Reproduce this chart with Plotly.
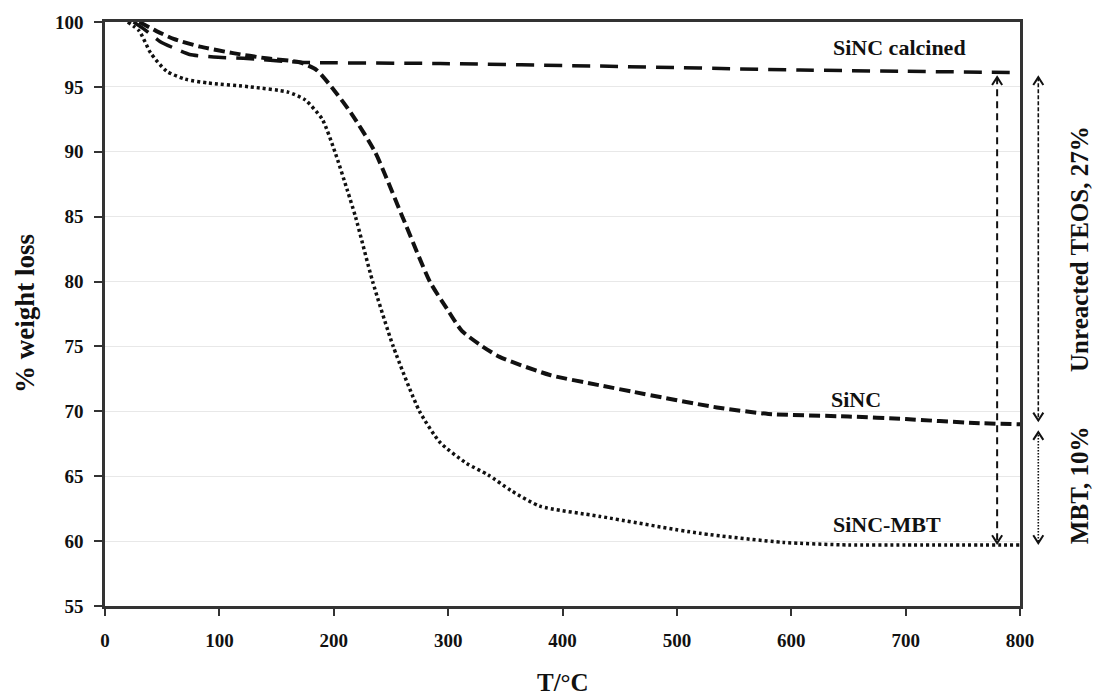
import plotly.graph_objects as go

# ---- data ----
t_mbt = [20, 30, 40, 54, 70, 90, 127, 160, 175, 190, 201, 212, 219, 234, 252, 275, 293, 316, 335, 355, 380, 433, 520, 593, 650, 700, 800]
w_mbt = [100, 99.3, 97.6, 96.2, 95.6, 95.3, 95.0, 94.6, 94.0, 92.5, 90.0, 87.0, 85.0, 80.0, 75.0, 70.0, 67.6, 66.0, 65.1, 63.9, 62.7, 61.9, 60.6, 59.9, 59.7, 59.7, 59.7]

t_sinc = [30, 45, 60, 83, 112, 141, 170, 185, 198, 215, 236, 260, 284, 299, 312, 330, 345, 389, 433, 462, 535, 580, 650, 700, 760, 800]
w_sinc = [100, 99.3, 98.7, 98.1, 97.6, 97.2, 96.9, 96.3, 95.0, 93.0, 90.0, 85.0, 80.0, 77.9, 76.2, 75.0, 74.2, 72.8, 72.0, 71.5, 70.3, 69.8, 69.6, 69.4, 69.1, 69.0]

t_calc = [25, 35, 48, 60, 74, 95, 121, 170, 293, 433, 608, 700, 800]
w_calc = [100, 99.4, 98.5, 98.0, 97.5, 97.3, 97.2, 96.9, 96.8, 96.6, 96.3, 96.2, 96.1]

x_ticks = [0, 100, 200, 300, 400, 500, 600, 700, 800]
y_ticks = [55, 60, 65, 70, 75, 80, 85, 90, 95, 100]

labels = ["SiNC calcined", "SiNC", "SiNC-MBT"]
label_x = [695, 657, 684]
label_y = [98.0, 70.9, 61.25]

note_teos = "Unreacted TEOS, 27%"
note_mbt = "MBT, 10%"
arrow_x_inner = 780
arrow_x_outer = 816
note_x = 852

# ---- layout geometry (window pixels; body margin removed via post_script) ----
W, H = 1095, 695
PL, PR, PT, PB = 105, 1020, 22, 606          # plot box in window pixels
ML, MT, MB, MR = PL, PT, H - PB, 0
paper_w = W - ML - MR
paper_h = H - MT - MB
xdom = (PR - PL) / paper_w
X_MAX = 800
Y_MIN, Y_MAX = 55, 100

FONT = "Liberation Serif"
INK = "#111111"

fig = go.Figure()

fig.add_trace(go.Scatter(x=t_calc, y=w_calc, mode="lines", name=labels[0],
                         line=dict(color=INK, width=3.5, dash="18px,10px", shape="spline", smoothing=0.6)))
fig.add_trace(go.Scatter(x=t_sinc, y=w_sinc, mode="lines", name=labels[1],
                         line=dict(color=INK, width=4, dash="11px,5px", shape="spline", smoothing=0.6)))
fig.add_trace(go.Scatter(x=t_mbt, y=w_mbt, mode="lines", name=labels[2],
                         line=dict(color=INK, width=3.5, dash="3px,3px", shape="spline", smoothing=0.6)))

# ---- arrows (on an overlay subplot spanning the full width so they are not clipped) ----
top = w_calc[-1]
mid = w_sinc[-1]
bot = w_mbt[-1]
hx, hy = 4.4, 0.6  # chevron half-width (x units) and height (y units)


def shaft(x, y0, y1, dash, width):
    fig.add_trace(go.Scatter(x=[x, x], y=[y0, y1], mode="lines", xaxis="x2", yaxis="y2",
                             line=dict(color=INK, width=width, dash=dash), hoverinfo="skip"))


def head(x, y, up):
    s = -1 if up else 1
    fig.add_trace(go.Scatter(x=[x - hx, x, x + hx], y=[y + s * hy, y, y + s * hy], mode="lines",
                             xaxis="x2", yaxis="y2", line=dict(color=INK, width=2), hoverinfo="skip"))


# inner arrow between calcined and SiNC-MBT plateaus
y_a, y_b = top - 0.35, bot + 0.15
shaft(arrow_x_inner, y_a, y_b, "7px,5px", 2)
head(arrow_x_inner, y_a, True)
head(arrow_x_inner, y_b, False)

# outer arrow: unreacted TEOS
y_c, y_d = top - 0.35, mid + 0.3
shaft(arrow_x_outer, y_c, y_d, "4px,2px", 1.6)
head(arrow_x_outer, y_c, True)
head(arrow_x_outer, y_d, False)

# outer arrow: MBT
y_e, y_f = mid - 0.6, bot + 0.15
shaft(arrow_x_outer, y_e, y_f, "1.5px,1.5px", 1.6)
head(arrow_x_outer, y_e, True)
head(arrow_x_outer, y_f, False)

ann = []
for txt, x, y in zip(labels, label_x, label_y):
    ann.append(dict(x=x, y=y, xref="x", yref="y", text=f"<b>{txt}</b>", showarrow=False,
                    font=dict(family=FONT, size=22, color=INK), xanchor="center", yanchor="middle"))

ann.append(dict(x=note_x, y=(top + mid) / 2, xref="x2", yref="y2", text=f"<b>{note_teos}</b>",
                showarrow=False, textangle=-90, font=dict(family=FONT, size=25, color=INK),
                xanchor="center", yanchor="middle"))
ann.append(dict(x=note_x, y=(mid + bot) / 2, xref="x2", yref="y2", text=f"<b>{note_mbt}</b>",
                showarrow=False, textangle=-90, font=dict(family=FONT, size=25, color=INK),
                xanchor="center", yanchor="middle"))

# axis titles (positions given in window pixels, converted to paper fractions)
ann.append(dict(x=(25 - PL) / paper_w, y=0.5, xref="paper", yref="paper", text="<b>% weight loss</b>",
                showarrow=False, textangle=-90, font=dict(family=FONT, size=27, color=INK),
                xanchor="center", yanchor="middle"))
ann.append(dict(x=xdom / 2, y=(PB - 682) / paper_h, xref="paper", yref="paper", text="<b>T/°C</b>",
                showarrow=False, font=dict(family=FONT, size=25, color=INK),
                xanchor="center", yanchor="middle"))

fig.update_layout(
    width=W, height=H,
    margin=dict(l=ML, r=MR, t=MT, b=MB, pad=0, autoexpand=False),
    paper_bgcolor="white", plot_bgcolor="rgba(0,0,0,0)",
    showlegend=False,
    font=dict(family=FONT, color=INK),
    annotations=ann,
    xaxis=dict(domain=[0, xdom], range=[0, X_MAX], tickvals=x_ticks, ticktext=[f"<b>{v}</b>" for v in x_ticks],
               showgrid=False, zeroline=False, showline=True, linecolor="#333333", linewidth=2.5, mirror=True,
               ticks="outside", ticklen=7, tickwidth=2, tickcolor="#333333", ticklabelstandoff=8,
               tickfont=dict(family=FONT, size=19, color=INK), anchor="y", automargin=False),
    yaxis=dict(domain=[0, 1], range=[Y_MIN, Y_MAX], tickvals=y_ticks, ticktext=[f"<b>{v}</b>" for v in y_ticks],
               showgrid=True, gridcolor="#e8e8e8", gridwidth=1, zeroline=False,
               showline=True, linecolor="#333333", linewidth=2.5, mirror=True,
               ticks="outside", ticklen=8, tickwidth=2, tickcolor="#333333", ticklabelstandoff=7,
               tickfont=dict(family=FONT, size=19, color=INK), anchor="x", automargin=False),
    xaxis2=dict(domain=[0, 1], range=[0, X_MAX / xdom], visible=False, anchor="y2", fixedrange=True),
    yaxis2=dict(domain=[0, 1], range=[Y_MIN, Y_MAX], visible=False, anchor="x2", fixedrange=True),
)

fig.write_html(
    "out.html",
    config={"displayModeBar": False},
    post_script="document.body.style.margin='0';document.body.style.overflow='hidden';",
)
